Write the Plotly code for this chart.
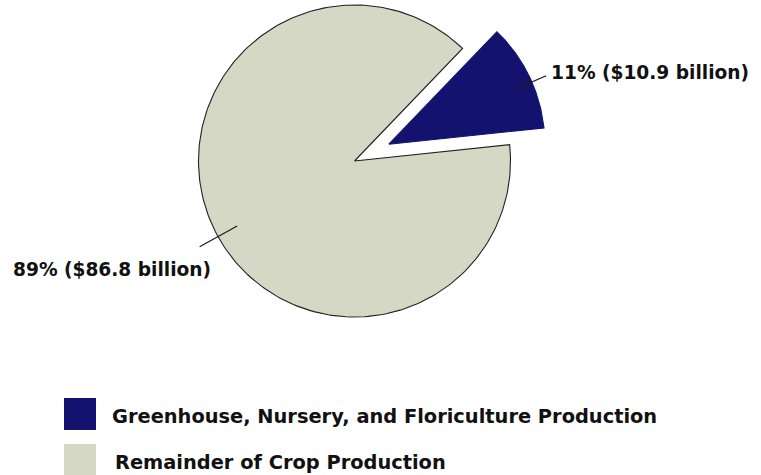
import numpy as np
import plotly.graph_objects as go

# Crop production value, billions of dollars
categories = ["Greenhouse, Nursery, and Floriculture Production",
              "Remainder of Crop Production"]
values = [10.9, 86.8]
colors = ["#13136f", "#d4d8c5"]

W, H = 761, 475
CX, CY, R = 354.5, 161.0, 156.0      # pie centre and radius in pixels
START_DEG = 6.0                       # first slice starts here, counter-clockwise
PULL = 0.245                          # exploded slice offset, in radii
LABEL_ANGLES = [23.5, 209.0]          # leader-line directions
LABEL_R = [(0.885, 1.10), (0.86, 1.135)]

total = sum(values)
fracs = [v / total for v in values]
pcts = [round(f * 100) for f in fracs]
label_texts = [f"{p}% (${v} billion)" for p, v in zip(pcts, values)]

FONT = dict(family="DejaVu Sans", size=18.6, color="#111111", weight="bold")


def px(x, y):
    """Pixel position -> paper coordinates."""
    return x / W, 1 - y / H


fig = go.Figure()

# slice wedges, built from the cumulative fractions
a0 = np.radians(START_DEG)
offsets = []
for i, (f, name, col) in enumerate(zip(fracs, categories, colors)):
    a1 = a0 + f * 2 * np.pi
    mid = (a0 + a1) / 2
    pull = PULL if i == 0 else 0.0
    ox, oy = pull * np.cos(mid), pull * np.sin(mid)
    offsets.append((ox, oy))
    t = np.linspace(a0, a1, 240)
    xs = np.concatenate([[ox], ox + np.cos(t), [ox]])
    ys = np.concatenate([[oy], oy + np.sin(t), [oy]])
    fig.add_trace(go.Scatter(
        x=xs, y=ys, mode="lines", fill="toself", fillcolor=col,
        line=dict(color="#222222" if i == 1 else col, width=1.1),
        name=name, hoverinfo="name", showlegend=False))
    a0 = a1

# leader lines and value labels
for i, txt in enumerate(label_texts):
    ang = np.radians(LABEL_ANGLES[i])
    ox, oy = offsets[i]
    r_in, r_out = LABEL_R[i]
    fig.add_trace(go.Scatter(
        x=[ox + r_in * np.cos(ang), ox + r_out * np.cos(ang)],
        y=[oy + r_in * np.sin(ang), oy + r_out * np.sin(ang)],
        mode="lines", line=dict(color="#1a1a1a", width=1.2),
        hoverinfo="skip", showlegend=False))

lx, ly = px(549, 73)
fig.add_annotation(x=lx, y=ly, xref="paper", yref="paper", text=label_texts[0],
                   showarrow=False, xanchor="left", yanchor="middle", font=FONT)
lx, ly = px(213, 269)
fig.add_annotation(x=lx, y=ly, xref="paper", yref="paper", text=label_texts[1],
                   showarrow=False, xanchor="right", yanchor="middle", font=FONT)

# legend: colour swatches with category names
for i, (name, col) in enumerate(zip(categories, colors)):
    top = 398 + i * 46
    x0, y1 = px(64, top)
    x1, y0 = px(96, top + 32)
    fig.add_shape(type="rect", xref="paper", yref="paper",
                  x0=x0, x1=x1, y0=y0, y1=y1,
                  fillcolor=col, line=dict(color=col, width=0))
    tx, ty = px(110 + 3 * i, top + 18)
    fig.add_annotation(x=tx, y=ty, xref="paper", yref="paper", text=name,
                       showarrow=False, xanchor="left", yanchor="middle",
                       font=dict(FONT, size=19.4))

fig.update_xaxes(range=[-CX / R, (W - CX) / R], visible=False, fixedrange=True)
fig.update_yaxes(range=[-(H - CY) / R, CY / R], visible=False, fixedrange=True)
fig.update_layout(width=W, height=H, margin=dict(l=0, r=0, t=0, b=0),
                  paper_bgcolor="white", plot_bgcolor="white",
                  showlegend=False)

fig.write_html("out.html")
